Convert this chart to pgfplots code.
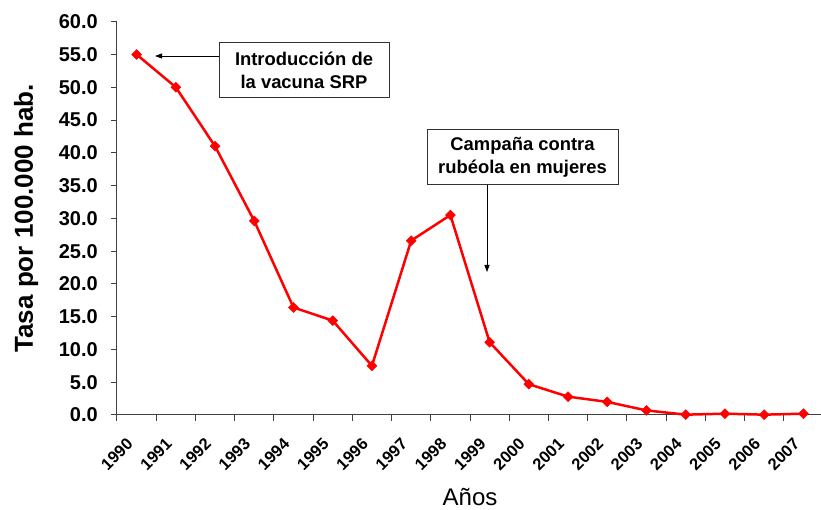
\documentclass[border=0pt]{standalone}
\usepackage{fontspec}
\setmainfont{Liberation Sans}
\usepackage{pgfplots}
\pgfplotsset{compat=1.18}
\usetikzlibrary{arrows.meta}
\begin{document}
\begin{tikzpicture}
\useasboundingbox (-117pt,-95pt) rectangle (704pt,415pt);
\begin{axis}[
  at={(0pt,0pt)}, anchor=south west,
  scale only axis, width=706pt, height=393.3pt,
  xmin=0, xmax=18, ymin=0, ymax=60,
  axis x line*=bottom, axis y line*=left,
  axis line style={line width=1pt, black!75},
  tick align=outside, major tick length=6pt,
  tick style={line width=1pt, black!75},
  xtick={0,1,...,18}, xticklabels={},
  extra x ticks={0.5,1.5,2.5,3.5,4.5,5.5,6.5,7.5,8.5,9.5,10.5,11.5,12.5,13.5,14.5,15.5,16.5,17.5},
  extra x tick labels={1990,1991,1992,1993,1994,1995,1996,1997,1998,1999,2000,2001,2002,2003,2004,2005,2006,2007},
  extra x tick style={major tick length=0pt,
    tick label style={xshift=-11pt, yshift=-22pt, rotate=45, anchor=north east, inner sep=0pt,
      font=\bfseries\fontsize{16.5}{19}\selectfont}},
  ytick={0,5,...,60},
  yticklabel style={/pgf/number format/fixed, /pgf/number format/fixed zerofill,
    /pgf/number format/precision=1, /pgf/number format/assume math mode=true,
    font=\bfseries\fontsize{20}{24}\selectfont, anchor=east, inner sep=0pt, xshift=-13pt},
  ylabel={Tasa por 100.000 hab.},
  ylabel style={at={(axis description cs:-0.119,0.5)}, anchor=base, inner sep=0pt,
    font=\bfseries\fontsize{26}{30}\selectfont},
  xlabel={Años},
  xlabel style={at={(axis description cs:0.5,0)}, anchor=base, inner sep=0pt,
    font=\fontsize{24}{28}\selectfont, yshift=-91pt},
  clip=false,
]
\addplot[red, line width=2.5pt, mark=square*, mark size=3.5pt,
  mark options={rotate=45, solid, fill=red, line width=0.5pt}]
  coordinates {
  (0.5,55.0) (1.5,50.0) (2.5,41.0) (3.5,29.6) (4.5,16.4) (5.5,14.4)
  (6.5,7.5) (7.5,26.6) (8.5,30.5) (9.5,11.1) (10.5,4.7) (11.5,2.8)
  (12.5,2.0) (13.5,0.7) (14.5,0.05) (15.5,0.2) (16.5,0.05) (17.5,0.2)
  };
\end{axis}
\node[draw=black!80, line width=1pt, fill=white, align=center, minimum width=170pt, minimum height=55pt,
  inner sep=0pt, font=\bfseries\fontsize{18.4}{23}\selectfont] at (187pt,344.5pt)
  {Introducción de\\la vacuna SRP};
\draw[-{Triangle[length=7pt,width=5pt]}, line width=0.8pt, black] (102pt,359pt) -- (38pt,359pt);
\node[draw=black!80, line width=1pt, fill=white, align=center, minimum width=191pt, minimum height=55pt,
  inner sep=0pt, font=\bfseries\fontsize{18.4}{23}\selectfont] at (405.5pt,257.5pt)
  {Campaña contra\\rubéola en mujeres};
\draw[-{Triangle[length=7pt,width=5pt]}, line width=0.8pt, black] (370pt,230pt) -- (370pt,143pt);
\end{tikzpicture}
\end{document}
